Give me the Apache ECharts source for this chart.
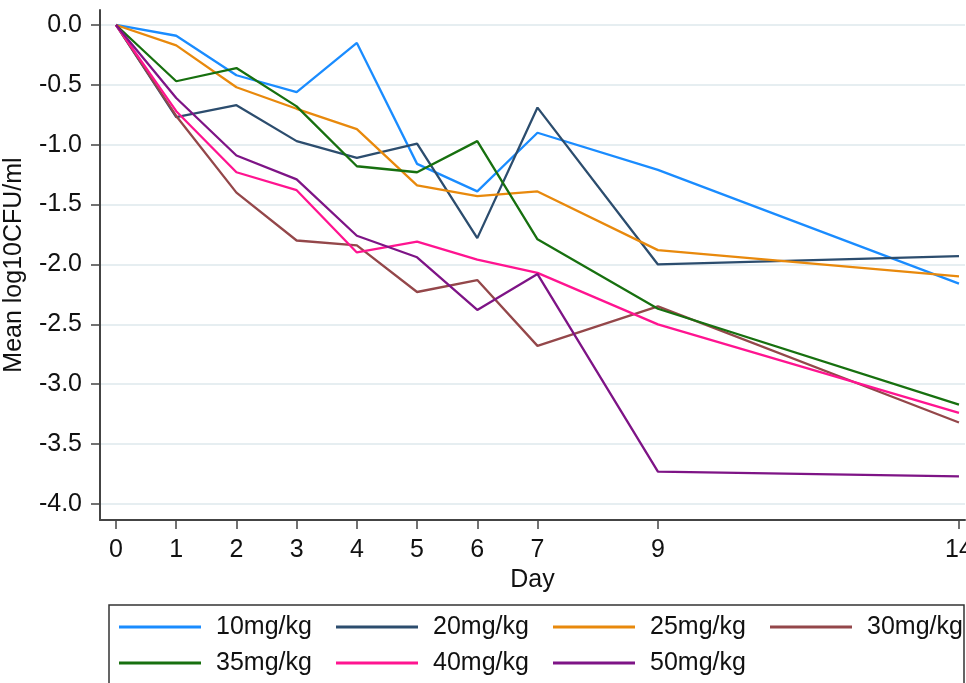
<!DOCTYPE html>
<html>
<head>
<meta charset="utf-8">
<script src="https://cdn.jsdelivr.net/npm/echarts@6/dist/echarts.min.js"></script>
<style>
html,body{margin:0;padding:0;background:#fff;}
#chart{width:966px;height:683px;}
</style>
</head>
<body>
<div id="chart"></div>
<script>
const days = [0, 1, 2, 3, 4, 5, 6, 7, 9, 14];
const xTicks = [0, 1, 2, 3, 4, 5, 6, 7, 9, 14];
const yTicks = [0, -0.5, -1, -1.5, -2, -2.5, -3, -3.5, -4];
const seriesNames = ['10mg/kg', '20mg/kg', '25mg/kg', '30mg/kg', '35mg/kg', '40mg/kg', '50mg/kg'];
const v10 = [0, -0.09, -0.42, -0.56, -0.15, -1.16, -1.39, -0.90, -1.21, -2.16];
const v20 = [0, -0.77, -0.67, -0.97, -1.11, -0.99, -1.78, -0.69, -2.00, -1.93];
const v25 = [0, -0.17, -0.52, -0.70, -0.87, -1.34, -1.43, -1.39, -1.88, -2.10];
const v30 = [0, -0.76, -1.40, -1.80, -1.84, -2.23, -2.13, -2.68, -2.35, -3.32];
const v35 = [0, -0.47, -0.36, -0.68, -1.18, -1.23, -0.97, -1.79, -2.37, -3.17];
const v40 = [0, -0.72, -1.23, -1.38, -1.90, -1.81, -1.96, -2.07, -2.50, -3.24];
const v50 = [0, -0.61, -1.09, -1.29, -1.76, -1.94, -2.38, -2.08, -3.73, -3.77];
const allValues = [v10, v20, v25, v30, v35, v40, v50];
const colors = ['#1a8cff', '#2c4d6e', '#e8890c', '#94474a', '#17700f', '#ff1490', '#7e1486'];

const font = 'Liberation Sans, Arial, sans-serif';
const chart = echarts.init(document.getElementById('chart'), null, {renderer: 'canvas'});

const series = seriesNames.map((name, i) => ({
  name: name,
  type: 'line',
  data: days.map((d, j) => [d, allValues[i][j]]),
  symbol: 'none',
  showSymbol: false,
  color: colors[i],
  itemStyle: {color: colors[i]},
  lineStyle: {width: 2.3, color: colors[i]},
  animation: false,
  z: 3
}));

const legends = seriesNames.map((name, i) => ({
  show: true,
  data: [{name: name, icon: 'rect', itemStyle: {color: colors[i]}}],
  left: 119 + (i % 4) * 217,
  top: i < 4 ? 614 : 650,
  padding: 0,
  itemWidth: 82,
  itemHeight: 3,
  textStyle: {fontFamily: font, fontSize: 25, lineHeight: 26, color: '#111', padding: [0, 0, 0, 10]},
  selectedMode: false
}));

chart.setOption({
  animation: false,
  backgroundColor: '#fff',
  grid: {left: 100, top: 10, right: 1, bottom: 163, containLabel: false, outerBoundsMode: 'none'},
  xAxis: {
    type: 'value',
    min: -0.266,
    max: 14.1,
    name: 'Day',
    nameLocation: 'middle',
    nameGap: 47,
    nameTextStyle: {fontFamily: font, fontSize: 25, color: '#111'},
    axisLine: {show: true, onZero: false, lineStyle: {color: '#444', width: 2}},
    axisTick: {show: true, length: 9, lineStyle: {color: '#444', width: 1.5}, customValues: xTicks},
    axisLabel: {fontFamily: font, fontSize: 25, color: '#111', margin: 18, customValues: xTicks},
    splitLine: {show: false}
  },
  yAxis: {
    type: 'value',
    min: -4.134,
    max: 0.125,
    name: 'Mean log10CFU/ml',
    nameLocation: 'middle',
    nameGap: 73,
    nameRotate: 90,
    nameTextStyle: {fontFamily: font, fontSize: 25, color: '#111'},
    axisLine: {show: true, onZero: false, lineStyle: {color: '#444', width: 2}},
    axisTick: {show: true, length: 9, lineStyle: {color: '#444', width: 1.5}, customValues: yTicks},
    axisLabel: {fontFamily: font, fontSize: 25, color: '#111', margin: 18, customValues: yTicks,
      formatter: v => v.toFixed(1)},
    splitLine: {show: true, lineStyle: {color: '#e6eef1', width: 2}}
  },
  legend: legends,
  graphic: [{
    type: 'rect',
    shape: {x: 109, y: 605, width: 855, height: 200},
    style: {fill: 'none', stroke: '#333', lineWidth: 1.5},
    silent: true
  }],
  series: series
});
</script>
</body>
</html>
